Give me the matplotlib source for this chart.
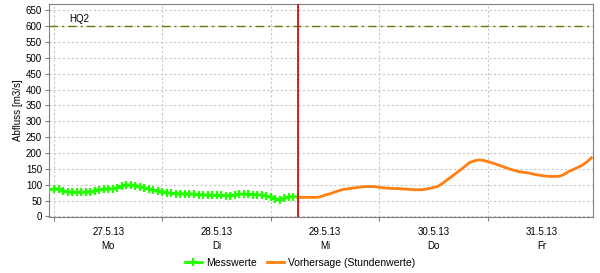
import matplotlib
matplotlib.use("Agg")
import matplotlib.pyplot as plt
import numpy as np

plt.rcParams['font.family'] = ['Liberation Sans', 'DejaVu Sans']

# hours counted from 27.5.13 00:00
mess_start_hour = -1
mess_values = [84, 86, 85, 80, 77, 76, 76, 76, 76, 77, 81, 83, 85, 86, 87, 90, 95, 98, 99, 97,
               94, 91, 86, 82, 79, 78, 75, 73, 72, 72, 71, 70, 70, 69, 68, 67, 67, 66, 66, 65,
               65, 67, 70, 70, 70, 69, 69, 67, 64, 60, 56, 53, 57, 61, 62, 62]

fc_start_hour = 54
fc_values = [60, 60, 60, 60, 60, 62, 67, 71, 76, 81, 85, 87, 89, 91, 93, 94, 94, 94, 92, 90,
             89, 88, 88, 87, 86, 85, 84, 84, 85, 88, 91, 95, 104, 115, 125, 136, 147, 158, 170, 175,
             178, 177, 173, 169, 164, 159, 154, 149, 145, 141, 139, 137, 134, 131, 129, 127, 126, 126, 127, 133,
             142, 148, 155, 162, 172, 185]

hq2 = 600
now_hour = 54
day_labels = ["27.5.13\nMo", "28.5.13\nDi", "29.5.13\nMi", "30.5.13\nDo", "31.5.13\nFr"]
y_ticks = list(range(0, 651, 50))

mess_x = np.arange(len(mess_values)) + mess_start_hour
fc_x = np.arange(len(fc_values)) + fc_start_hour

fig = plt.figure(figsize=(6.0, 2.73), dpi=100)
ax = fig.add_axes([0.0817, 0.205, 0.9063, 0.78])

grid_kw = dict(color='#c8c8c8', lw=0.8, ls=(0, (2, 2)), zorder=0)
for yv in y_ticks:
    ax.axhline(yv, **grid_kw)
for d in range(5):
    ax.axvline(d * 24, **grid_kw)

ax.axhline(hq2, color='#5f7f00', lw=1.0, ls=(0, (6, 3, 1.5, 3)), zorder=2)
ax.text(3.3, hq2 + 8, "HQ2", fontsize=7, ha='left', va='bottom')

ax.plot(mess_x, mess_values, color='#22ff00', lw=2, marker='+', ms=5.5, mew=1.6,
        label='Messwerte', zorder=3)
ax.plot(fc_x, fc_values, color='#ff7f10', lw=2, label='Vorhersage (Stundenwerte)', zorder=3)

ax.axvline(now_hour, color='#ff0000', lw=1.3, zorder=4)
ax.axvline(now_hour + 0.1, color='#202020', lw=0.5, ls=(0, (1.5, 4)), zorder=5)

ax.set_xlim(-1.1, 119.3)
ax.set_ylim(-2, 670)
ax.set_yticks(y_ticks)
ax.set_xticks([d * 24 for d in range(5)])
ax.set_xticklabels([])
ax.set_xticks([d * 24 + 12 for d in range(5)], minor=True)
ax.set_xticklabels(day_labels, minor=True, linespacing=1.5)
ax.tick_params(axis='x', which='minor', length=0, labelsize=7, pad=7)
ax.tick_params(axis='x', which='major', length=3, color='#808080')
ax.tick_params(axis='y', labelsize=7, length=3, color='#808080', pad=2)
for s in ax.spines.values():
    s.set_color('#808080')
ax.set_ylabel("Abfluss [m3/s]", fontsize=7, labelpad=2)

fig.legend(handles=ax.get_legend_handles_labels()[0], loc='center', bbox_to_anchor=(0.5, 0.037),
           ncol=2, frameon=False, fontsize=7.5, handlelength=1.6, columnspacing=1.0,
           handletextpad=0.4)

fig.savefig("out.png", dpi=100)
